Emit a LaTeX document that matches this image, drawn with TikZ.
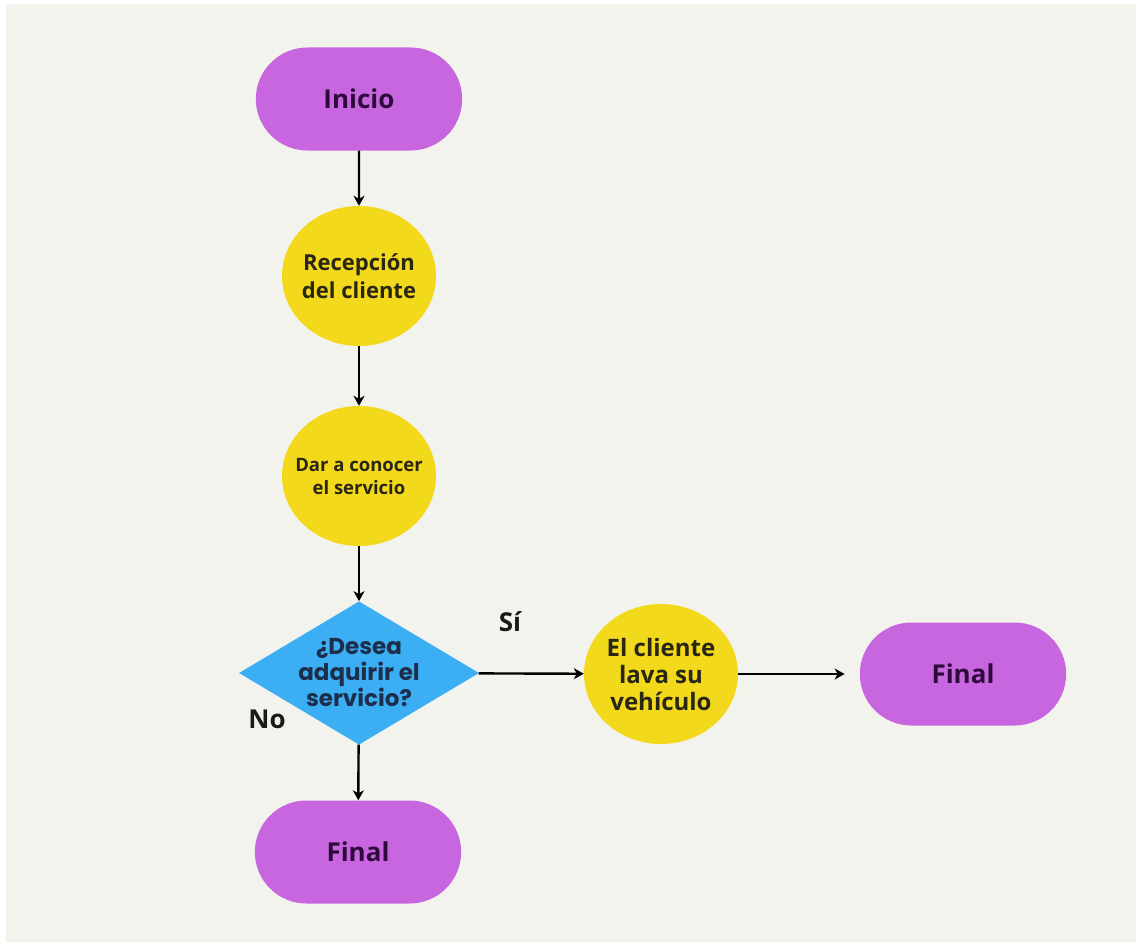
\documentclass[tikz,border=0pt]{standalone}
\usepackage{fontspec}
\setmainfont{Open Sans}
\newfontfamily\rombofont{Poppins}
\usepackage{xcolor}
\definecolor{fondo}{HTML}{F3F3EE}
\definecolor{morado}{HTML}{C866E0}
\definecolor{amarillo}{HTML}{F3D91B}
\definecolor{azul}{HTML}{3BAEF4}
\definecolor{textomorado}{HTML}{2E0A3C}
\definecolor{textoazul}{HTML}{1D2E4A}
\definecolor{textoamarillo}{HTML}{2A2614}
\usepackage{tikz}
\usetikzlibrary{shapes.geometric, shapes.misc, arrows.meta, positioning}

\begin{document}
\begin{tikzpicture}[x=1pt, y=-1pt,
    terminal/.style={rounded rectangle, fill=morado, minimum width=213pt, minimum height=103pt,
        font=\bfseries\fontsize{26}{30}\selectfont, text=textomorado},
    proceso/.style={ellipse, fill=amarillo, minimum width=154pt, minimum height=140pt,
        inner sep=0pt, align=center, text=textoamarillo},
    decision/.style={diamond, fill=azul, aspect=1.62, inner sep=0pt, minimum width=240pt,
        align=center, font=\rombofont\bfseries\fontsize{23}{26}\selectfont, text=textoazul},
    rama/.style={font=\bfseries\fontsize{26}{30}\selectfont, text=black!90},
    flecha/.style={-{Stealth[length=10pt, width=11pt, inset=3pt]}, line width=2.4pt, black}]
    % Fondo y margenes
    \useasboundingbox (0,0) rectangle (1136,942);
    \fill[white] (0,0) rectangle (1136,942);
    \fill[fondo] (6,4) rectangle (1136,942);
    % Nodos del diagrama
    \node[terminal] (inicio) at (359,99) {Inicio};
    \node[proceso, inner xsep=-4pt, font=\bfseries\fontsize{22}{28}\selectfont] (recepcion) at (359,276) {Recepción\\ del cliente};
    \node[proceso, inner xsep=-13pt, font=\bfseries\fontsize{18.5}{23}\selectfont] (servicio) at (359,476) {Dar a conocer\\ el servicio};
    \node[decision] (desea) at (359,673) {¿Desea\\ adquirir el\\ servicio?};
    \node[proceso, font=\bfseries\fontsize{24}{27}\selectfont] (lava) at (661,674) {El cliente\\ lava su\\ vehículo};
    \node[terminal] (finalsi) at (963,674) {Final};
    \node[terminal] (finalno) at (358,852) {Final};
    % Etiquetas de las ramas
    \node[rama] (si) at (510,622) {Sí};
    \node[rama] (no) at (267,719) {No};
    % Flechas
    \draw[flecha] (inicio) -- (recepcion);
    \draw[flecha] (recepcion) -- (servicio);
    \draw[flecha] (servicio) -- (desea);
    \draw[flecha] (desea) -- (lava);
    \draw[flecha, shorten >=15pt] (lava) -- (finalsi);
    \draw[flecha] (desea) -- (finalno);
\end{tikzpicture}
\end{document}
